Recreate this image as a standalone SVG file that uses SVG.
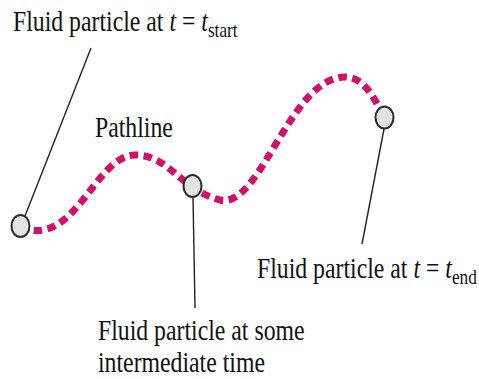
<svg xmlns="http://www.w3.org/2000/svg" width="479" height="379" viewBox="0 0 479 379">
<style>
.lbl{font-family:"Liberation Serif","Times New Roman",serif;font-size:29px;fill:#111}
.sub{font-size:21px}
.it{font-style:italic}
.lead{stroke:#222;stroke-width:1.4;fill:none}
.path{stroke:#d0106a;stroke-width:7;stroke-dasharray:8.5 5.5;fill:none}
.pt{fill:#e3e3e3;stroke:#2a2a2a;stroke-width:2}
</style>
<rect width="479" height="379" fill="#fff"/>
<g id="connectors">
<path class="path" d="M20,227 C75,250 95,155 135,155 C170,155 180,190 220,200 C260,210 290,77 345,77 C365,77 375,100 384,117"/>
<line class="lead" x1="25" y1="216" x2="91" y2="48"/>
<line class="lead" x1="193" y1="197" x2="195" y2="308"/>
<line class="lead" x1="384" y1="129" x2="362" y2="244"/>
</g>
<g id="particle-start"><ellipse class="pt" cx="20.5" cy="226" rx="9" ry="11"/></g>
<g id="particle-mid"><ellipse class="pt" cx="192.5" cy="186" rx="9" ry="11"/></g>
<g id="particle-end"><ellipse class="pt" cx="384.5" cy="117.5" rx="9" ry="11"/></g>
<g id="label-start"><text class="lbl" transform="translate(13,31) scale(0.82,1)">Fluid particle at <tspan class="it">t</tspan> = <tspan class="it">t</tspan><tspan class="sub" dy="6">start</tspan></text></g>
<g id="label-pathline"><text class="lbl" transform="translate(95,137) scale(0.82,1)">Pathline</text></g>
<g id="label-end"><text class="lbl" transform="translate(257,278) scale(0.82,1)">Fluid particle at <tspan class="it">t</tspan> = <tspan class="it">t</tspan><tspan class="sub" dy="6">end</tspan></text></g>
<g id="label-mid"><text class="lbl" transform="translate(98,340) scale(0.82,1)">Fluid particle at some</text><text class="lbl" transform="translate(98,372) scale(0.82,1)">intermediate time</text></g>
</svg>
